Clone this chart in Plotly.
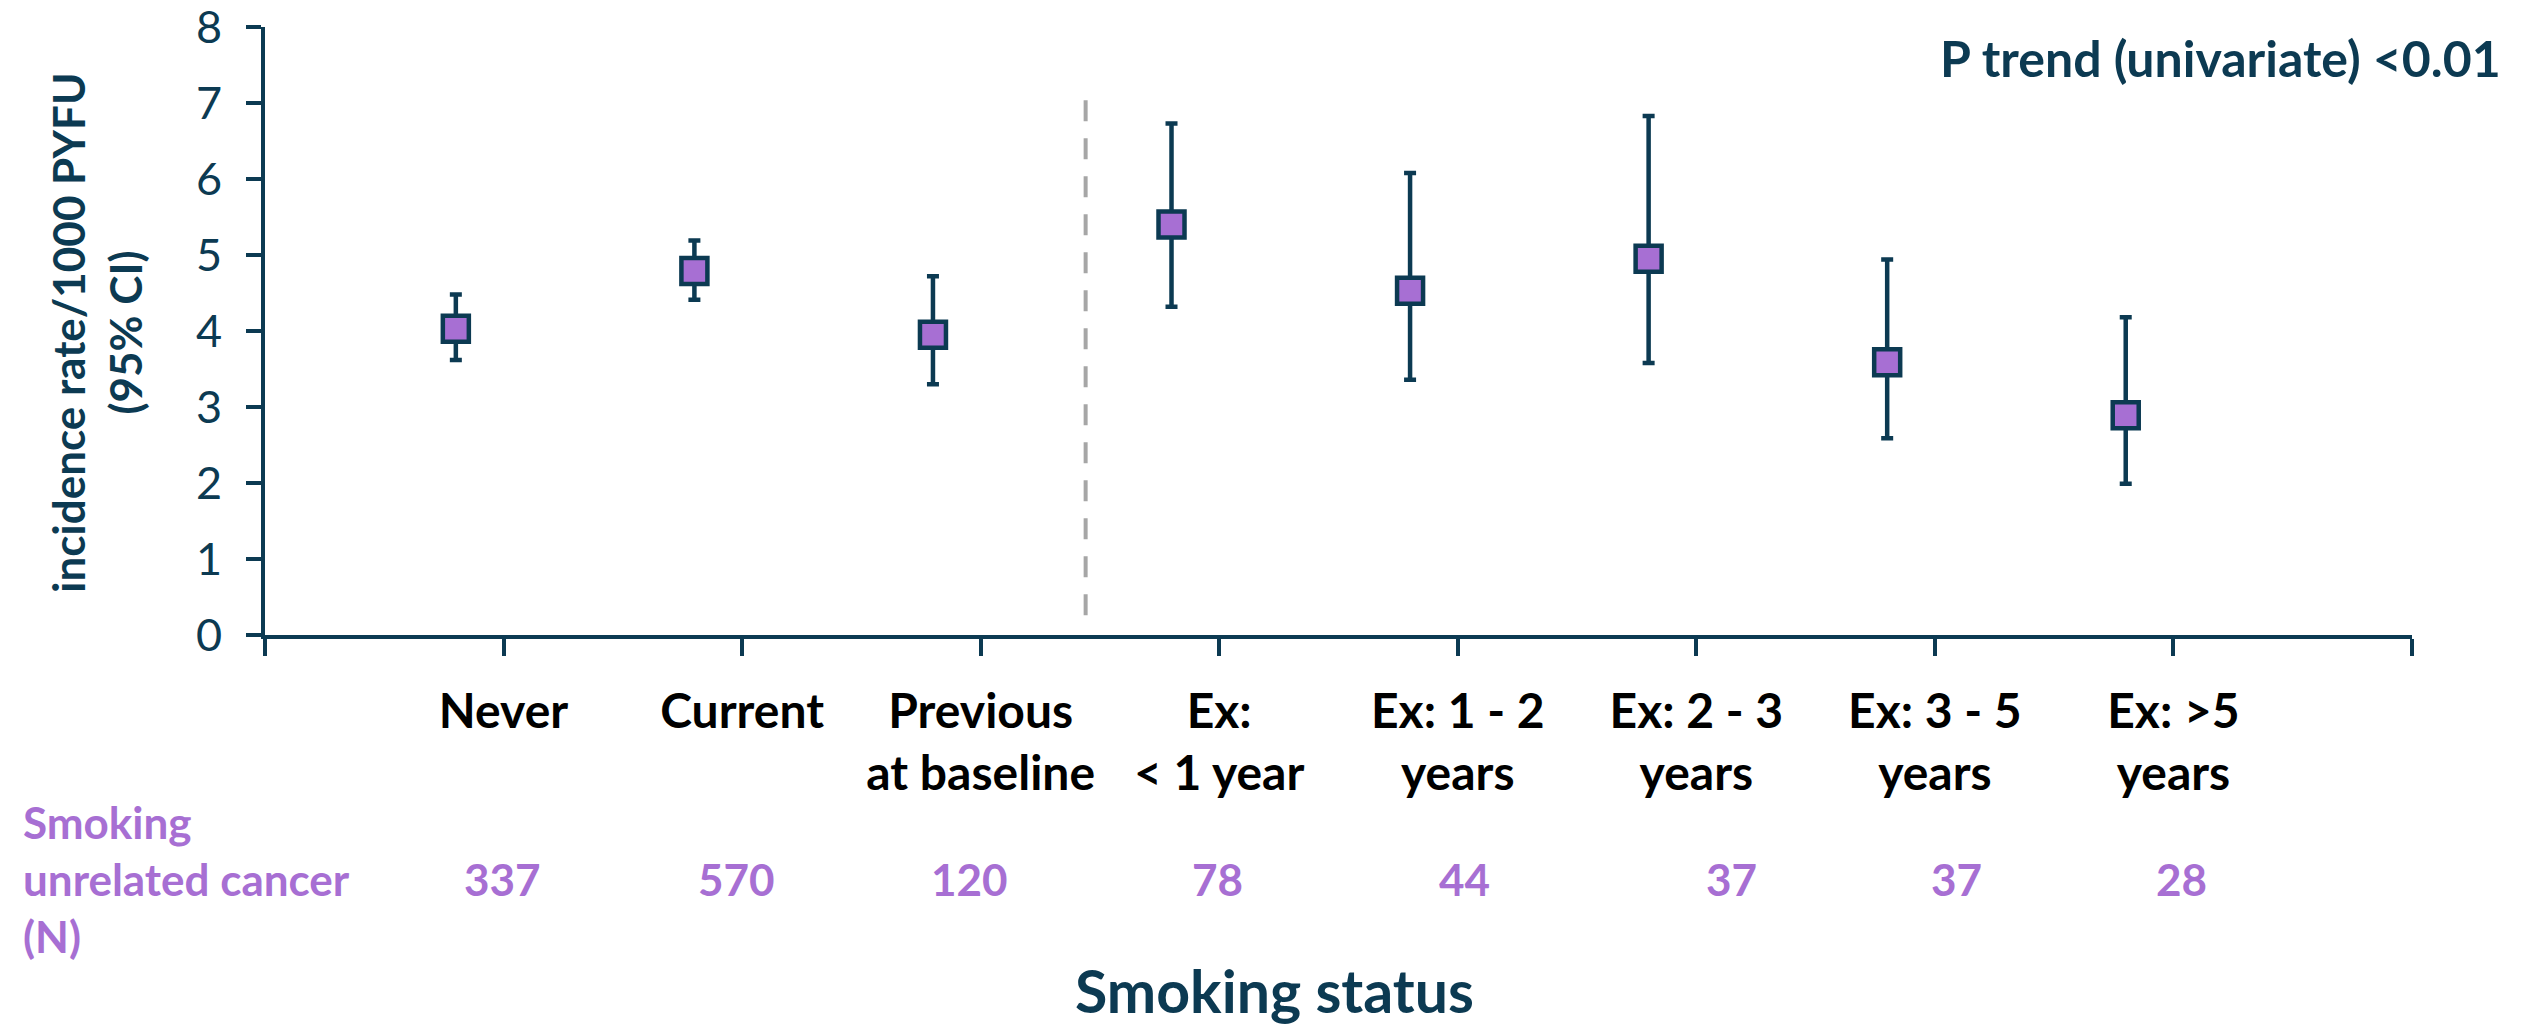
import plotly.graph_objects as go

# Smoking-status groups and their incidence rates (per 1000 PYFU) with 95% CI
categories = [
    "Never",
    "Current",
    "Previous<br>at baseline",
    "Ex:<br>< 1 year",
    "Ex: 1 - 2<br>years",
    "Ex: 2 - 3<br>years",
    "Ex: 3 - 5<br>years",
    "Ex: >5<br>years",
]
rate = [4.03, 4.79, 3.95, 5.40, 4.53, 4.95, 3.59, 2.89]
ci_low = [3.62, 4.41, 3.30, 4.32, 3.36, 3.58, 2.59, 1.99]
ci_high = [4.48, 5.19, 4.72, 6.73, 6.08, 6.83, 4.94, 4.18]
n_cases = [337, 570, 120, 78, 44, 37, 37, 28]

y_ticks = [0, 1, 2, 3, 4, 5, 6, 7, 8]

NAVY = "#0c3a52"
PURPLE = "#a76fd3"
FONT = "Lato"

# category k is labelled at tick k; its point sits a little left of the tick
label_pos = [i + 1 for i in range(len(categories))]
point_pos = [p - 0.2 for p in label_pos]
divider_x = 3.44  # separates baseline groups from time-since-quitting groups

fig = go.Figure()

fig.add_trace(
    go.Scatter(
        x=point_pos,
        y=rate,
        mode="markers",
        marker=dict(
            symbol="square",
            size=26,
            color=PURPLE,
            line=dict(color=NAVY, width=4.5),
        ),
        error_y=dict(
            type="data",
            symmetric=False,
            array=[h - r for h, r in zip(ci_high, rate)],
            arrayminus=[r - l for r, l in zip(rate, ci_low)],
            color=NAVY,
            thickness=4.5,
            width=6,
        ),
        showlegend=False,
        hoverinfo="skip",
    )
)

# dashed divider line
fig.add_shape(
    type="line",
    xref="x",
    yref="y",
    x0=divider_x,
    x1=divider_x,
    y0=0.26,
    y1=7.04,
    line=dict(color="#a6a6a6", width=4, dash="21px,17px"),
)

fig.update_xaxes(
    range=[0, len(categories) + 1],
    tickmode="array",
    tickvals=[0] + label_pos + [len(categories) + 1],
    ticktext=[""] + categories + [""],
    tickfont=dict(family=FONT, size=48, color="#000000", weight="bold"),
    ticks="outside",
    ticklen=17,
    tickwidth=4,
    tickcolor=NAVY,
    showline=True,
    linewidth=4,
    linecolor=NAVY,
    showgrid=False,
    zeroline=False,
    ticklabelstandoff=14,
    automargin=False,
)

fig.update_yaxes(
    range=[0, 8],
    tickmode="array",
    tickvals=y_ticks,
    ticktext=[str(v) for v in y_ticks],
    tickfont=dict(family=FONT, size=45, color=NAVY),
    ticks="outside",
    ticklen=15,
    tickwidth=4,
    tickcolor=NAVY,
    showline=True,
    linewidth=4,
    linecolor=NAVY,
    showgrid=False,
    zeroline=False,
    ticklabelstandoff=15,
    ticklabeloverflow="allow",
    automargin=False,
)

# y-axis title
fig.add_annotation(
    text="<b>incidence rate/1000 PYFU<br>(95% CI)</b>",
    xref="paper", yref="paper",
    x=-0.0785, y=0.498,
    xanchor="center", yanchor="middle",
    textangle=-90,
    showarrow=False,
    font=dict(family=FONT, size=44, color=NAVY),
)

# x-axis title
fig.add_annotation(
    text="<b>Smoking status</b>",
    xref="paper", yref="paper",
    x=0.4704, y=-0.584,
    xanchor="center", yanchor="middle",
    showarrow=False,
    font=dict(family=FONT, size=59, color=NAVY),
)

# trend p-value
fig.add_annotation(
    text="<b>P trend (univariate) <0.01</b>",
    xref="paper", yref="paper",
    x=1.0424, y=0.949,
    xanchor="right", yanchor="middle",
    showarrow=False,
    font=dict(family=FONT, size=50, color=NAVY),
)

# case counts row
fig.add_annotation(
    text="<b>Smoking<br>unrelated cancer<br>(N)</b>",
    xref="paper", yref="paper",
    x=-0.1136, y=-0.401,
    xanchor="left", yanchor="middle",
    align="left",
    showarrow=False,
    font=dict(family=FONT, size=44, color=PURPLE),
)
# counts sit under their category labels, hand-nudged a little in the layout
count_xshift = [-1, -6, -11, -2, 7, 35, 22, 8]
for pos, n, dx in zip(label_pos, n_cases, count_xshift):
    fig.add_annotation(
        text=f"<b>{n}</b>",
        xref="x", yref="paper",
        x=pos, y=-0.401,
        xshift=dx,
        xanchor="center", yanchor="middle",
        showarrow=False,
        font=dict(family=FONT, size=44, color=PURPLE),
    )

fig.update_layout(
    width=2526,
    height=1027,
    autosize=False,
    margin=dict(l=265, r=114, t=27, b=392),
    paper_bgcolor="white",
    plot_bgcolor="white",
    font=dict(family=FONT, color=NAVY),
)

fig.write_html("out.html")
